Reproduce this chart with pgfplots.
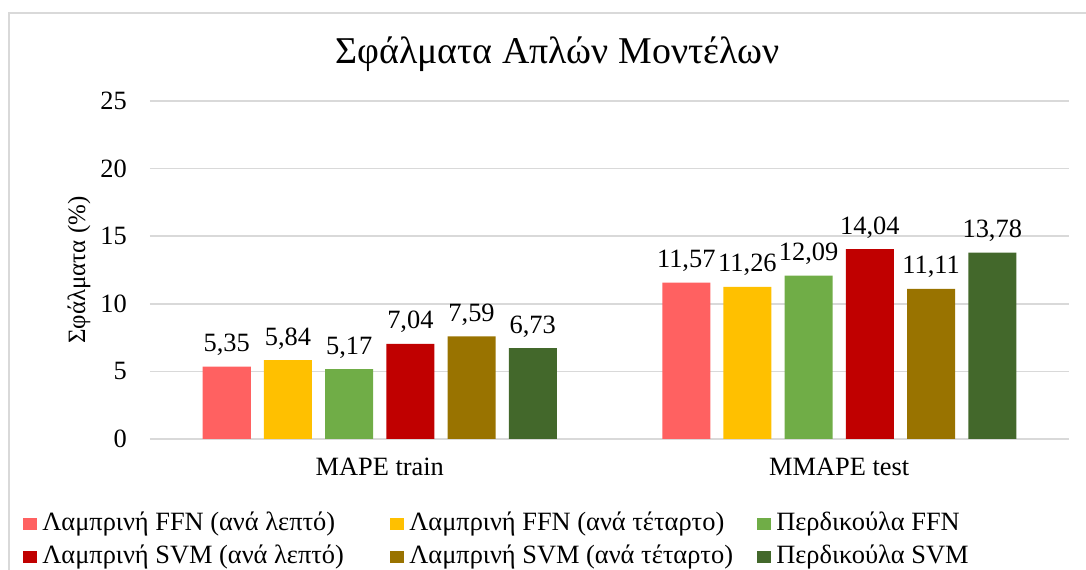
\documentclass[border=0pt]{standalone}
\usepackage{fontspec}
\setmainfont{Liberation Serif}
\usepackage{pgfplots}
\pgfplotsset{compat=1.18}
\definecolor{gridgray}{HTML}{D9D9D9}
\definecolor{c1}{HTML}{FF6161}
\definecolor{c2}{HTML}{FFC000}
\definecolor{c3}{HTML}{70AD47}
\definecolor{c4}{HTML}{C00000}
\definecolor{c5}{HTML}{997300}
\definecolor{c6}{HTML}{43682B}
\pgfplotsset{sq/.style={legend image code/.code={\fill[##1] (0pt,-4.6pt) rectangle (10.5pt,4.6pt);}}}
\begin{document}
\begin{tikzpicture}[x=0.75pt,y=0.75pt]
\useasboundingbox (0,0) rectangle (1086,570);
\draw[color=gridgray, line width=0.8pt] (9,-20) -- (9,557) -- (1110,557);
\node[anchor=base, font=\fontsize{28.4}{33}\selectfont] at (557.5,506) {Σφάλματα Απλών Μοντέλων};
\begin{axis}[
  at={(112.5pt,98.25pt)}, anchor=south west, scale only axis,
  width=689.25pt, height=253.5pt,
  xmin=-0.5, xmax=1.5, ymin=0, ymax=25,
  xtick={0,1}, xticklabels={MAPE train, MMAPE test},
  ytick={0,5,10,15,20,25},
  ymajorgrids, grid style={draw=gridgray, line width=1.1pt},
  axis line style={draw=none},
  major tick length=0pt,
  tick label style={font=\fontsize{19.8}{23}\selectfont},
  /pgf/number format/assume math mode=true,
  yticklabel style={anchor=east, inner sep=0pt, xshift=-17.25pt},
  xticklabel style={anchor=north, inner sep=0pt, yshift=-14pt},
  ylabel={Σφάλματα (\%)},
  ylabel style={at={(axis description cs:-0.0773,0.5)}, anchor=center, font=\fontsize{18.7}{22}\selectfont},
  ybar, bar width=36pt,
  nodes near coords={\pgfmathprintnumber[fixed,fixed zerofill,precision=2,use comma,assume math mode=true]{\pgfplotspointmeta}},
  nodes near coords style={font=\fontsize{19.8}{23}\selectfont, anchor=base, inner sep=0pt, yshift=11.25pt, text=black},
  legend columns=3,
  legend cell align=left,
  legend style={at={(axis description cs:-0.1425,-0.206)}, anchor=north west, draw=none, fill=none,
    font=\fontsize{19.8}{23}\selectfont,
    nodes={inner sep=0pt, text height=14.5pt, text depth=4.5pt},
    row sep=5.5pt,
    /tikz/every odd column/.append style={column sep=3.75pt},
    /tikz/every even column/.append style={column sep=0pt}},
]
\addplot[fill=c1, draw=none, bar shift=-114.75pt, sq] coordinates {(0,5.35) (1,11.57)};
\addlegendentry{\makebox[261pt][l]{Λαμπρινή FFN (ανά λεπτό)}}
\addplot[fill=c2, draw=none, bar shift=-68.85pt, sq] coordinates {(0,5.84) (1,11.26)};
\addlegendentry{\makebox[261pt][l]{Λαμπρινή FFN (ανά τέταρτο)}}
\addplot[fill=c3, draw=none, bar shift=-22.95pt, sq] coordinates {(0,5.17) (1,12.09)};
\addlegendentry{Περδικούλα FFN}
\addplot[fill=c4, draw=none, bar shift=22.95pt, sq] coordinates {(0,7.04) (1,14.04)};
\addlegendentry{\makebox[261pt][l]{Λαμπρινή SVM (ανά λεπτό)}}
\addplot[fill=c5, draw=none, bar shift=68.85pt, sq] coordinates {(0,7.59) (1,11.11)};
\addlegendentry{\makebox[261pt][l]{Λαμπρινή SVM (ανά τέταρτο)}}
\addplot[fill=c6, draw=none, bar shift=114.75pt, sq] coordinates {(0,6.73) (1,13.78)};
\addlegendentry{Περδικούλα SVM}
\end{axis}
\end{tikzpicture}
\end{document}
